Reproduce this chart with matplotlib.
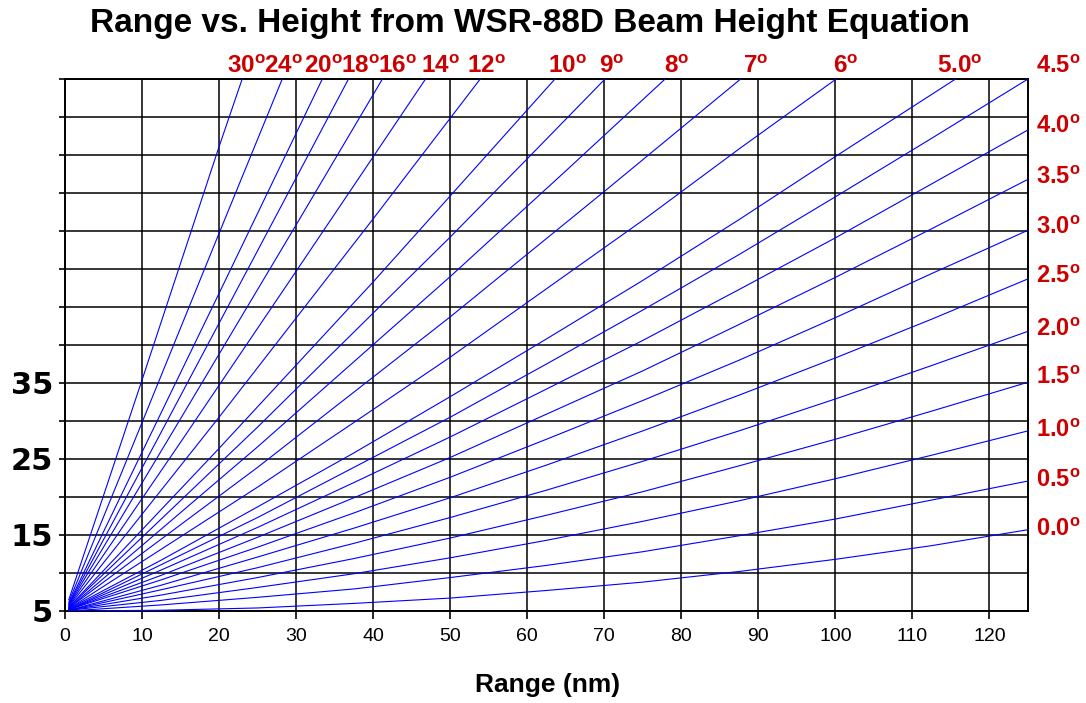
import matplotlib.pyplot as plt

plt.rcParams["font.family"] = ["Liberation Sans", "DejaVu Sans"]

# elevation angles (deg) of the beam lines
elev_labels = ["0.0", "0.5", "1.0", "1.5", "2.0", "2.5", "3.0", "3.5", "4.0", "4.5",
               "5.0", "6", "7", "8", "9", "10", "12", "14", "16", "18", "20", "24", "30"]

# range (nm)
low_ranges = [0.5, 12.5, 25, 37.5, 50, 62.5, 75, 87.5, 100, 112.5, 125]
beam_ranges = [low_ranges] * 10 + [
    [0.5, 12.5, 25, 37.5, 50, 62.5, 75, 87.5, 100, 115.6],   # 5.0
    [0.5, 25, 37.5, 50, 62.5, 75, 87.5, 100.1],              # 6
    [0.5, 25, 50, 70, 87.7],                                 # 7
    [0.5, 25, 50, 65, 77.9],                                 # 8
    [0.5, 25, 50, 60, 70.1],                                 # 9
    [0.5, 20, 40, 63.6],                                     # 10
    [0.5, 20, 40, 53.9],                                     # 12
    [0.5, 15, 30, 46.8],                                     # 14
    [0.5, 15, 30, 41.2],                                     # 16
    [0.5, 12, 24, 36.8],                                     # 18
    [0.5, 10, 20, 33.4],                                     # 20
    [0.5, 10, 20, 28.2],                                     # 24
    [0.5, 10, 20, 23.0],                                     # 30
]
# height
beam_heights = [
    [5.0, 5.1, 5.4, 6.0, 6.7, 7.7, 8.8, 10.2, 11.8, 13.6, 15.7],
    [5.0, 5.8, 6.8, 7.9, 9.4, 11.0, 12.8, 14.9, 17.1, 19.6, 22.1],
    [5.1, 6.4, 8.1, 9.9, 12.0, 14.3, 16.8, 19.5, 22.4, 25.5, 28.7],
    [5.1, 7.1, 9.4, 11.9, 14.6, 17.6, 20.7, 24.1, 27.6, 31.3, 35.1],
    [5.1, 7.8, 10.7, 13.9, 17.3, 20.9, 24.7, 28.7, 32.9, 37.3, 41.8],
    [5.1, 8.4, 12.1, 15.9, 19.9, 24.2, 28.7, 33.4, 38.3, 43.4, 48.7],
    [5.2, 9.1, 13.4, 17.9, 22.6, 27.6, 32.7, 38.0, 43.6, 49.4, 55.1],
    [5.2, 9.7, 14.7, 19.9, 25.2, 30.9, 36.6, 42.7, 48.9, 55.3, 61.8],
    [5.2, 10.4, 16.0, 21.9, 27.9, 34.2, 40.6, 47.3, 54.1, 61.2, 68.3],
    [5.2, 11.1, 17.3, 23.9, 30.5, 37.5, 44.6, 51.9, 59.5, 67.2, 75.0],
    [5.3, 11.7, 18.7, 25.8, 33.2, 40.8, 48.5, 56.5, 64.8, 75.0],
    [5.3, 21.3, 29.8, 38.4, 47.4, 56.4, 65.8, 75.0],
    [5.4, 23.9, 43.7, 60.2, 75.0],
    [5.4, 26.6, 49.0, 62.9, 75.0],
    [5.5, 29.2, 54.2, 64.5, 75.0],
    [5.5, 26.4, 48.3, 75.0],
    [5.6, 30.5, 56.6, 75.0],
    [5.7, 27.2, 49.7, 75.0],
    [5.8, 30.3, 55.8, 75.0],
    [5.9, 27.6, 50.5, 75.0],
    [6.0, 25.9, 46.8, 75.0],
    [6.2, 29.8, 54.7, 75.0],
    [6.5, 35.4, 66.1, 75.0],
]

x_ticks = list(range(0, 121, 10))
y_ticks = list(range(5, 76, 5))
y_tick_labels = ["5", "", "15", "", "25", "", "35"] + [""] * 8

# label placement
right_label_y = [15.7, 22.2, 28.8, 35.7, 42.0, 49.0, 55.5, 62.1, 68.7, 76.6]
top_label_x = [116.2, 101.3, 89.6, 79.4, 71.0, 65.2, 54.7, 48.7, 43.2, 38.3, 33.5, 28.3, 23.5]

red = "#cc0000"

fig = plt.figure(figsize=(10.86, 7.03), dpi=100)
ax = fig.add_axes([65 / 1086, 1 - 611 / 703, (1028 - 65) / 1086, (611 - 79) / 703])

for xs, ys in zip(beam_ranges, beam_heights):
    ax.plot(xs, ys, color="#0000ff", lw=0.8, zorder=3)

ax.set_xlim(0, 125)
ax.set_ylim(5, 75)
ax.set_xticks(x_ticks)
ax.set_xticklabels([str(v) for v in x_ticks], fontsize=14)
ax.set_yticks(y_ticks)
ax.set_yticklabels(y_tick_labels, fontsize=22, fontweight="bold", family="DejaVu Sans")
ax.tick_params(axis="x", length=6, width=1.2, pad=6)
ax.tick_params(axis="y", length=4.5, width=1.2, pad=4)
ax.grid(True, color="black", lw=1.1, zorder=2)
ax.set_axisbelow(False)
for s in ax.spines.values():
    s.set_linewidth(1.4)

deg = r"$^{\mathregular{o}}$"
for lab, yy in zip(elev_labels[:10], right_label_y):
    ax.text(126.0, yy, lab + deg, color=red, fontsize=17, fontweight="bold",
            ha="left", va="center", clip_on=False)
for lab, xx in zip(elev_labels[10:], top_label_x):
    ax.text(xx, 75.8, lab + deg, color=red, fontsize=17.5, fontweight="bold",
            ha="center", va="baseline", clip_on=False)

fig.text(0.488, 0.966, "Range vs. Height from WSR-88D Beam Height Equation",
         ha="center", va="center", fontsize=24, fontweight="bold")
fig.text(0.504, 0.026, "Range (nm)", ha="center", va="center", fontsize=19,
         fontweight="bold")

plt.savefig("out.png")
